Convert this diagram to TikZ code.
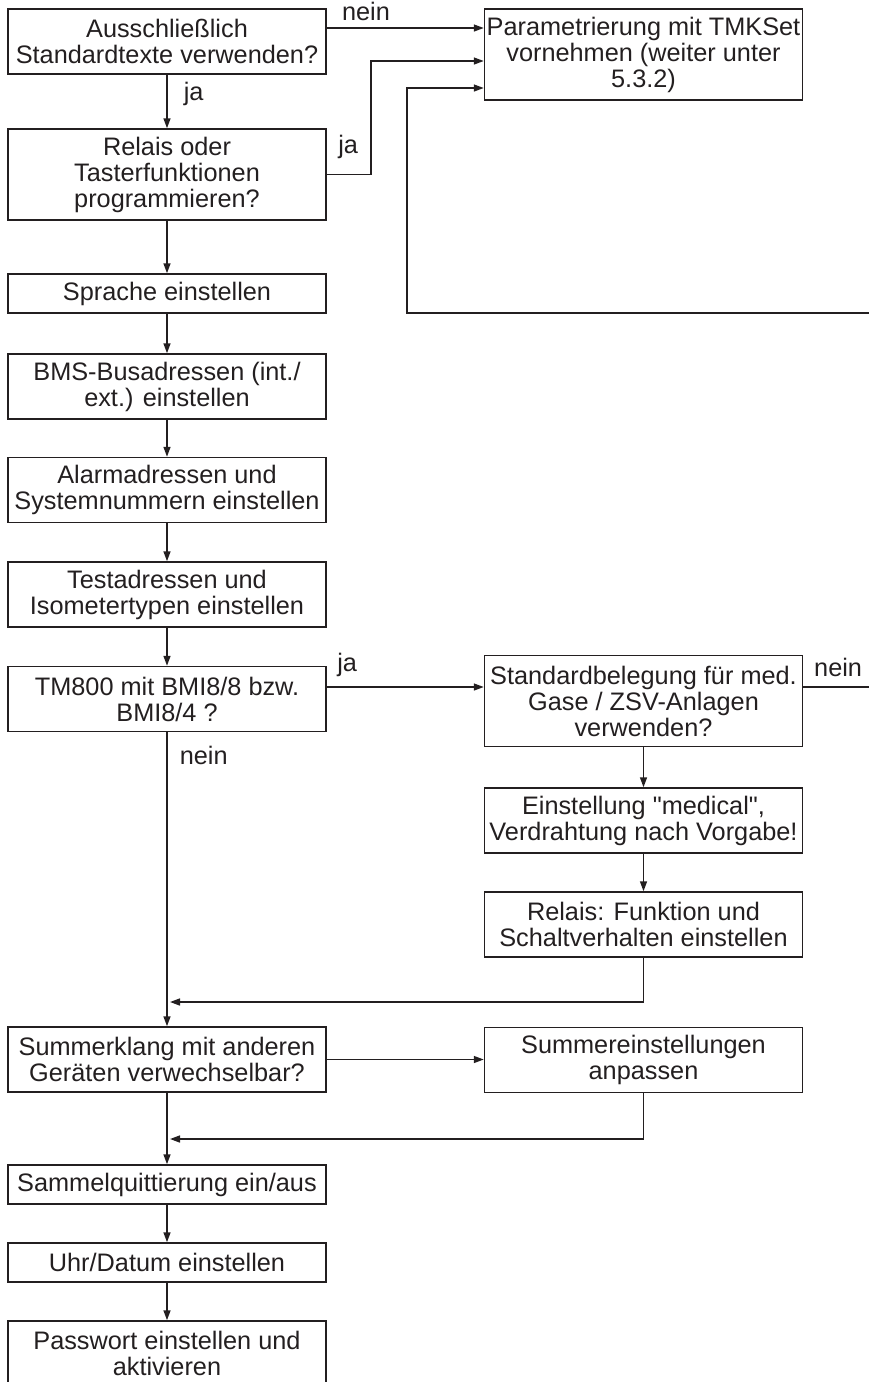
\documentclass[tikz,border=0pt]{standalone}
\usepackage{fontspec}
\setmainfont{Liberation Sans}[Ligatures=TeXOff]
\usetikzlibrary{arrows.meta}
\definecolor{ink}{HTML}{231F20}

\begin{document}
\begin{tikzpicture}[x=1pt,y=-1pt,
    font=\fontsize{25.3}{26}\selectfont, color=ink, line width=1.5pt,
    box/.style={draw, align=center, inner sep=0pt, minimum width=318pt},
    one/.style={box, minimum height=39pt},
    two/.style={box, minimum height=65pt},
    three/.style={box, minimum height=91pt},
    arr/.style={-{Triangle[length=10pt,width=7pt]}},
    lab/.style={inner sep=2pt}]
    \useasboundingbox (0,0) rectangle (869,1382);
    \node[two] (ausschl) at (167,41.5) {Ausschließlich\\Standardtexte verwenden?};
    \node[three] (tmkset) at (643.5,54.5) {Parametrierung mit TMKSet\\vornehmen (weiter unter\\5.3.2)};
    \node[three] (taster) at (167,174.5) {Relais oder\\Tasterfunktionen\\programmieren?};
    \node[one] (sprache) at (167,293.5) {Sprache einstellen};
    \node[two] (bms) at (167,386.5) {BMS-Busadressen (int./\\ext.) einstellen};
    \node[two] (alarm) at (167,490) {Alarmadressen und\\Systemnummern einstellen};
    \node[two] (test) at (167,594.5) {Testadressen und\\Isometertypen einstellen};
    \node[two] (tm800) at (167,699) {TM800 mit BMI8/8 bzw.\\BMI8/4 ?};
    \node[three] (belegung) at (643.5,701) {Standardbelegung für med.\\Gase / ZSV-Anlagen\\verwenden?};
    \node[two] (medical) at (643.5,820.5) {Einstellung "medical",\\Verdrahtung nach Vorgabe!};
    \node[two] (relfkt) at (643.5,924.5) {Relais: Funktion und\\Schaltverhalten einstellen};
    \node[two] (summer) at (167,1059.5) {Summerklang mit anderen\\Geräten verwechselbar?};
    \node[two] (summeinst) at (643.5,1060) {Summereinstellungen\\anpassen};
    \node[one] (quitt) at (167,1184.5) {Sammelquittierung ein/aus};
    \node[one] (uhr) at (167,1262.5) {Uhr/Datum einstellen};
    \node[two] (passwort) at (167,1353.5) {Passwort einstellen und\\aktivieren};
    \coordinate (back) at (869,313);
    \coordinate (weiter) at (869,687);
    \coordinate (merge1) at (170,1002);
    \coordinate (merge2) at (170,1139);
    \draw[arr] ([yshift=13.5pt]ausschl.east) -- node[lab,above=5pt,pos=0.25] {nein} ([yshift=13.5pt]ausschl.east -| tmkset.west);
    \draw[arr] (ausschl) -- node[lab,right=14pt,pos=0.35] {ja} (taster);
    \draw[arr] (taster.east) -- ++(44,0) |- node[lab,left=10pt,pos=0.12] {ja} ([yshift=-6.5pt]tmkset.west);
    \draw[arr] (back) -- ++(-462,0) |- ([yshift=-33.5pt]tmkset.west);
    \draw[arr] (taster) -- (sprache);
    \draw[arr] (sprache) -- (bms);
    \draw[arr] (bms) -- (alarm);
    \draw[arr] (alarm) -- (test);
    \draw[arr] (test) -- (tm800);
    \draw[arr] ([yshift=12pt]tm800.east) -- node[lab,above=8pt,pos=0.13] {ja} ([yshift=12pt]tm800.east -| belegung.west);
    \draw ([yshift=14pt]belegung.east) -- node[lab,above=8pt,pos=0.53] {nein} (weiter);
    \draw[arr] (tm800) -- node[lab,right=10pt,pos=0.08] {nein} (summer);
    \draw[arr] (belegung) -- (medical);
    \draw[arr] (medical) -- (relfkt);
    \draw[arr] (relfkt.south) |- (merge1);
    \draw[arr] (summer.east) -- (summer.east -| summeinst.west);
    \draw[arr] (summeinst.south) |- (merge2);
    \draw[arr] (summer) -- (quitt);
    \draw[arr] (quitt) -- (uhr);
    \draw[arr] (uhr) -- (passwort);
\end{tikzpicture}
\end{document}
